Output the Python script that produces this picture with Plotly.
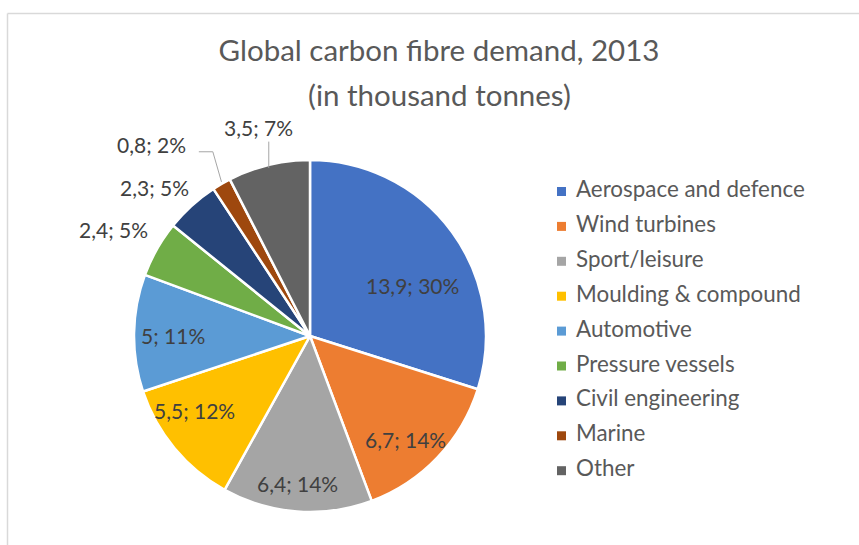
import math
import plotly.graph_objects as go

# Global carbon fibre demand, 2013 (thousand tonnes)
categories = ["Aerospace and defence", "Wind turbines", "Sport/leisure",
              "Moulding & compound", "Automotive", "Pressure vessels",
              "Civil engineering", "Marine", "Other"]
demand = [13.9, 6.7, 6.4, 5.5, 5.0, 2.4, 2.3, 0.8, 3.5]
# shares as printed on the chart (%)
share_pct = [30, 14, 14, 12, 11, 5, 5, 2, 7]
colors = ["#4472C4", "#ED7D31", "#A5A5A5", "#FFC000", "#5B9BD5",
          "#70AD47", "#264478", "#9E480E", "#636363"]

W, H = 859, 545
CX, CY, R = 310, 336, 176          # pie centre and radius (px)

# label placement: radius factor and angle nudge (deg) per slice
label_r = [0.65, 0.80, 0.84, 0.78, 0.78, 1.27, 1.22, 1.41, 1.22]
label_da = [10, 4, 0.4, 6.8, -0.6, -1.3, -4.1, -9.4, -0.4]


def px(x):
    return x / W


def py(y):
    return 1 - y / H


def fmt(v):
    s = f"{v:.1f}".replace(".", ",")
    return s[:-2] if s.endswith(",0") else s


def polar(theta_deg, r):
    t = math.radians(theta_deg)
    return CX + r * math.sin(t), CY - r * math.cos(t)


total = sum(demand)
fig = go.Figure(go.Pie(
    labels=categories, values=demand, sort=False, direction="clockwise",
    rotation=0, textinfo="none", hoverinfo="label+value+percent",
    marker=dict(colors=colors, line=dict(color="white", width=2.5)),
    domain=dict(x=[px(CX - R), px(CX + R)], y=[py(CY + R), py(CY - R)]),
    showlegend=False,
))

annotations = []
shapes = []
cum = 0.0
for i, v in enumerate(demand):
    mid = (cum + v / 2) / total * 360
    cum += v
    lx, ly = polar(mid + label_da[i], R * label_r[i])
    annotations.append(dict(
        x=px(lx), y=py(ly), xref="paper", yref="paper",
        text=f"{fmt(v)}; {share_pct[i]}%", showarrow=False,
        xanchor="center", yanchor="middle",
        font=dict(family="Lato", size=21, color="#404040"),
    ))
    ex, ey = polar(mid, R)
    if categories[i] == "Other":
        path = f"M{px(ex)},{py(ey + 3)} L{px(ex)},{py(ly + 14)}"
        shapes.append(dict(type="path", path=path, xref="paper", yref="paper",
                           line=dict(color="#A6A6A6", width=1)))
    if categories[i] == "Marine":
        kx, ky = lx + 61, ly + 7
        path = (f"M{px(ex)},{py(ey - 2)} L{px(kx)},{py(ky)} "
                f"L{px(lx + 47)},{py(ky)}")
        shapes.append(dict(type="path", path=path, xref="paper", yref="paper",
                           line=dict(color="#A6A6A6", width=1)))

# legend
for i, (name, c) in enumerate(zip(categories, colors)):
    yc = 191.5 + 34.9 * i
    shapes.append(dict(type="rect", xref="paper", yref="paper",
                       x0=px(557), x1=px(566), y0=py(yc - 4.5), y1=py(yc + 4.5),
                       fillcolor=c, line=dict(width=0)))
    annotations.append(dict(
        x=px(574), y=py(yc - 3), xref="paper", yref="paper", text=name,
        showarrow=False, xanchor="left", yanchor="middle",
        font=dict(family="Lato", size=22.4, color="#595959"),
    ))

# chart area frame
shapes.append(dict(type="line", xref="paper", yref="paper",
                   x0=px(7.5), x1=px(W + 10), y0=py(13.5), y1=py(13.5),
                   line=dict(color="#D9D9D9", width=1.5)))
shapes.append(dict(type="line", xref="paper", yref="paper",
                   x0=px(7.5), x1=px(7.5), y0=py(13.5), y1=py(H + 10),
                   line=dict(color="#D9D9D9", width=1.5)))

annotations.append(dict(
    x=px(439), y=py(94), xref="paper", yref="paper",
    text="(in thousand tonnes)", showarrow=False,
    xanchor="center", yanchor="middle",
    font=dict(family="Lato", size=29.5, color="#595959"),
))

fig.update_layout(
    width=W, height=H,
    margin=dict(l=0, r=0, t=0, b=0),
    paper_bgcolor="white", plot_bgcolor="white",
    title=dict(text="Global carbon fibre demand, 2013",
               x=px(439), xanchor="center", y=py(51), yanchor="middle",
               font=dict(family="Lato", size=29.5, color="#595959")),
    annotations=annotations, shapes=shapes,
)

fig.write_html("out.html")
